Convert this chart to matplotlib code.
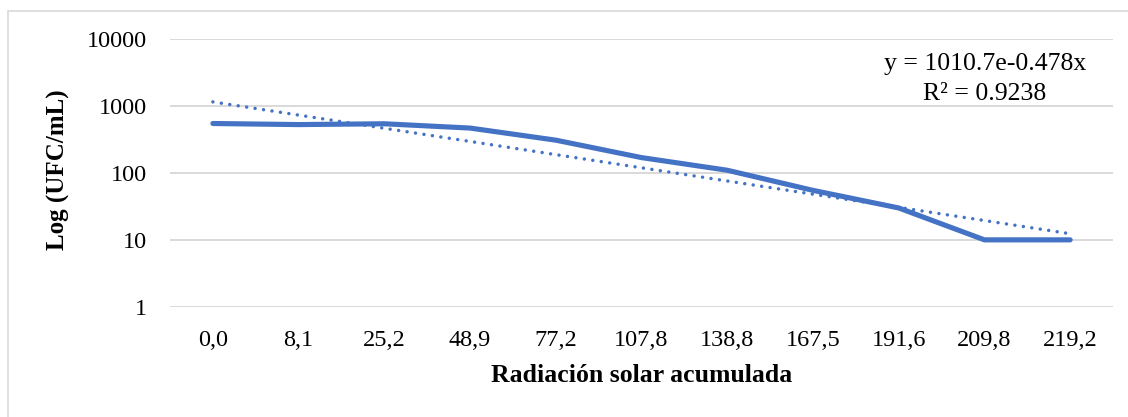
import numpy as np
import matplotlib
matplotlib.use("Agg")
import matplotlib.pyplot as plt
from matplotlib.patches import Rectangle

categories = ["0,0", "8,1", "25,2", "48,9", "77,2", "107,8", "138,8",
              "167,5", "191,6", "209,8", "219,2"]
ufc = [550, 530, 545, 470, 310, 170, 110, 55, 30, 10, 10]
eq_text = "y = 1010.7e-0.478x"
r2_text = "R\u00b2 = 0.9238"
y_ticks = [1, 10, 100, 1000, 10000]
y_ticklabels = ["1", "10", "100", "1000", "10000"]

plt.rcParams['font.family'] = ['Liberation Serif', 'DejaVu Serif']

W, H = 1128, 417
fig = plt.figure(figsize=(W / 100, H / 100), dpi=100)

# axes in pixel coordinates
left, right, top, bottom = 170, 1113, 39.3, 306.7
ax = fig.add_axes([left / W, 1 - bottom / H, (right - left) / W, (bottom - top) / H])

blue = "#4472C4"
grid = "#d9d9d9"

x = np.arange(len(categories))
ax.plot(x, ufc, color=blue, lw=3.7, solid_capstyle='round', solid_joinstyle='round', zorder=3)

# exponential trendline fitted to the data
xi = x + 1
b, a = np.polyfit(xi, np.log(ufc), 1)
trend = np.exp(a + b * xi)
ax.plot(x, trend, color=blue, lw=2.5, linestyle=(0, (0.01, 2.45)),
        dash_capstyle='round', zorder=4)

ax.set_yscale('log')
ax.set_ylim(1, 10000)
ax.set_xlim(-0.5, len(categories) - 0.5)
ax.set_yticks(y_ticks)
ax.set_yticklabels(y_ticklabels)
ax.yaxis.set_minor_locator(matplotlib.ticker.NullLocator())
ax.set_xticks(x)
ax.set_xticklabels(categories)
ax.tick_params(axis='both', length=0, labelsize=17.5)
ax.tick_params(axis='y', pad=16.5)
ax.tick_params(axis='x', pad=16.5)
for s in ax.spines.values():
    s.set_visible(False)
for yv in y_ticks:
    ax.axhline(yv, color=grid, lw=1.4, zorder=1)

ax.set_xlabel("Radiación solar acumulada", fontsize=18.5, fontweight='bold')
ax.set_ylabel("Log (UFC/mL)", fontsize=18, fontweight='bold')
ax.xaxis.set_label_coords(0.5, -(376 - bottom) / (bottom - top), transform=ax.transAxes)
ax.yaxis.set_label_coords(-(left - 58) / (right - left), 1 - (170 - top) / (bottom - top))
ax.xaxis.label.set_va('center')
ax.yaxis.label.set_va('center')

fig.text(985 / W, 1 - 64 / H, eq_text, ha='center', va='center', fontsize=18.5)
fig.text(985 / W, 1 - 94 / H, r2_text, ha='center', va='center', fontsize=18.5)

# chart border
fig.patches.append(Rectangle((8 / W, -0.01), 1.2, 1 - 11 / H + 0.01,
                             transform=fig.transFigure, fill=False,
                             edgecolor=grid, lw=1.2))

fig.savefig("out.png", dpi=100, facecolor='white')
